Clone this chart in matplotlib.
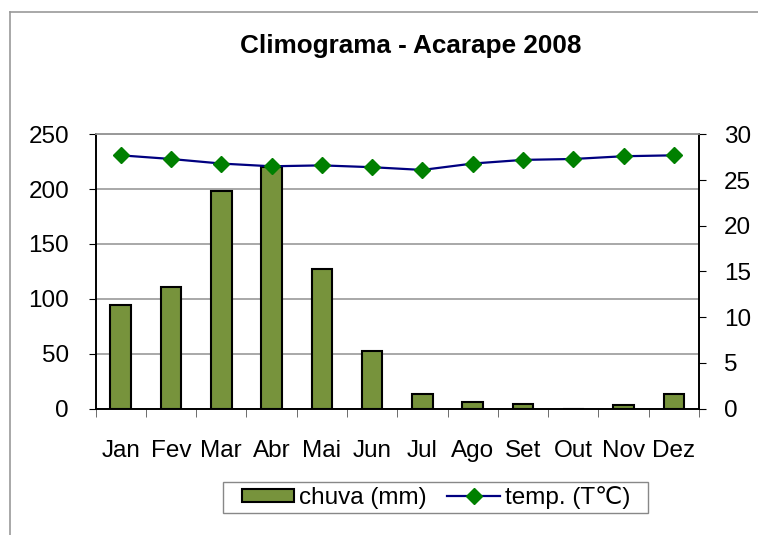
import matplotlib
matplotlib.use("Agg")
import matplotlib.pyplot as plt
from matplotlib.lines import Line2D
from matplotlib.patches import Patch, Rectangle
import numpy as np

plt.rcParams['font.family'] = ['Liberation Sans', 'DejaVu Sans']

meses = ['Jan', 'Fev', 'Mar', 'Abr', 'Mai', 'Jun', 'Jul', 'Ago', 'Set', 'Out', 'Nov', 'Dez']
chuva = [94.5, 110.5, 198.5, 220, 127, 52.5, 13.5, 5.5, 4.5, 0, 3, 13.5]
temp = [27.7, 27.3, 26.8, 26.5, 26.6, 26.4, 26.1, 26.8, 27.2, 27.3, 27.6, 27.7]

W, H = 758, 535
fig = plt.figure(figsize=(W / 100, H / 100), dpi=100)
ax = fig.add_axes([95.5 / W, 1 - 408.5 / H, (699 - 95.5) / W, (408.5 - 134.3) / H])
ax2 = ax.twinx()

x = np.arange(len(meses))
ax.bar(x, chuva, width=0.41, color='#77933c', edgecolor='black', linewidth=1.5, zorder=3)
ax2.plot(x, temp, color='#000080', linewidth=1.6, marker='D', markersize=8,
         markerfacecolor='#008000', markeredgecolor='#008000', zorder=4)

ax.set_xlim(-0.5, 11.5)
ax.set_ylim(0, 250)
ax2.set_ylim(0, 30)
ax.set_yticks(range(0, 251, 50))
ax2.set_yticks(range(0, 31, 5))
ax.yaxis.grid(True, color='#999999', linewidth=1.2, zorder=0)
ax.set_axisbelow(True)

fs = 17.5
ax.set_xticks(x)
ax.set_xticklabels(meses)
ax.set_xticks(np.arange(-0.5, 12, 1), minor=True)
ax.tick_params(axis='x', which='major', length=0, pad=23, labelsize=fs)
ax.tick_params(axis='x', which='minor', length=6, direction='out', color='#555555')
ax.tick_params(axis='y', length=5, direction='out', labelsize=fs, pad=14)
ax2.tick_params(axis='y', length=5, direction='out', labelsize=fs, pad=13)

for a in (ax, ax2):
    a.spines['top'].set_color('#999999')
    a.spines['top'].set_linewidth(1.2)
    for s in ('left', 'right', 'bottom'):
        a.spines[s].set_linewidth(1.2)

fig.text(410.5 / W, 1 - 46.5 / H, 'Climograma - Acarape 2008', ha='center', va='center',
         fontsize=18.8, fontweight='bold')

handles = [Patch(facecolor='#77933c', edgecolor='black', linewidth=1.5),
           Line2D([0], [0], color='#000080', linewidth=1.6, marker='D', markersize=8,
                  markerfacecolor='#008000', markeredgecolor='#008000')]
leg = fig.legend(handles, ['chuva (mm)', 'temp. (T℃)'], loc='center',
                 bbox_to_anchor=(436 / W, 1 - 497.5 / H), ncol=2, fontsize=fs,
                 frameon=False, handlelength=2.15, handleheight=0.45,
                 handletextpad=0.2, columnspacing=0.85, borderpad=0.0)

# legend box drawn separately (wide side padding as in the original)
fig.add_artist(Rectangle((223 / W, 1 - 513.3 / H), (647.7 - 223) / W, (513.3 - 481.7) / H,
                         transform=fig.transFigure, fill=False, edgecolor='#888888',
                         linewidth=1.0))

# outer chart border (only left and top visible)
fig.add_artist(Line2D([10 / W, 10 / W], [0, 1 - 12 / H], transform=fig.transFigure,
                      color='#999999', linewidth=1.2))
fig.add_artist(Line2D([10 / W, 1], [1 - 12 / H, 1 - 12 / H], transform=fig.transFigure,
                      color='#999999', linewidth=1.2))

fig.savefig('out.png', dpi=100)
